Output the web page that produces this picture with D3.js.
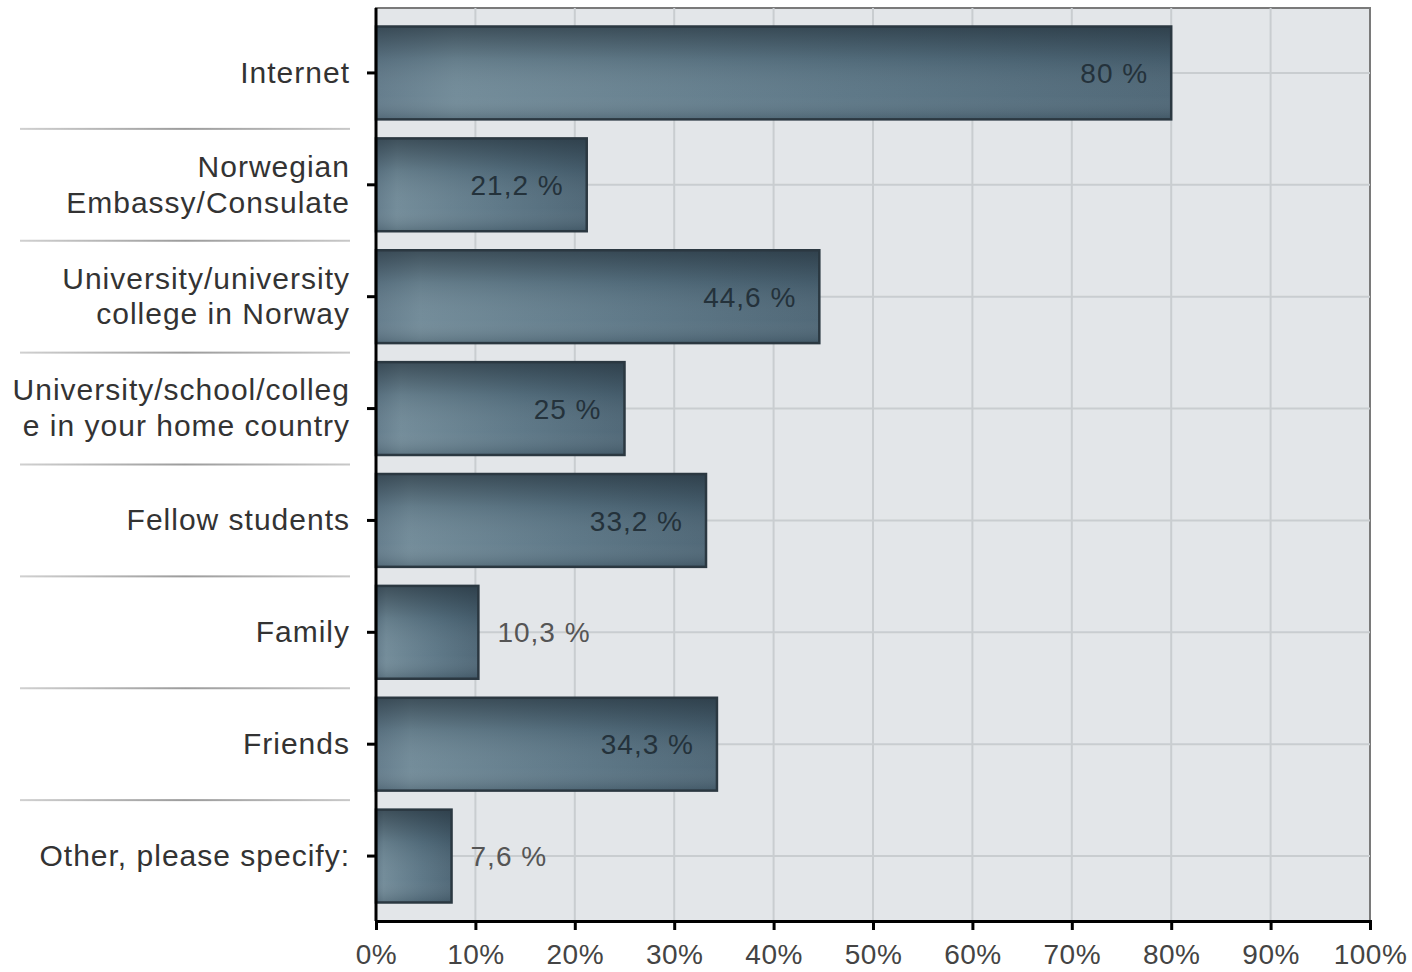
<!DOCTYPE html>
<html lang="en">
<head>
<meta charset="utf-8">
<title>Information sources</title>
<script src="https://cdn.jsdelivr.net/npm/d3@7"></script>
<style>
  body { margin: 0; background: #fff; }
  text { font-family: "Liberation Sans", Arial, sans-serif; }
</style>
</head>
<body>
<script>
    // categories (each line of a label is one entry)
    var categories = [
        ["Internet"],
        ["Norwegian", "Embassy/Consulate"],
        ["University/university", "college in Norway"],
        ["University/school/colleg", "e in your home country"],
        ["Fellow students"],
        ["Family"],
        ["Friends"],
        ["Other, please specify:"]
    ];
    var values = [80, 21.2, 44.6, 25, 33.2, 10.3, 34.3, 7.6];
    var valueLabels = ["80 %", "21,2 %", "44,6 %", "25 %", "33,2 %", "10,3 %", "34,3 %", "7,6 %"];
    var xTicks = [0, 10, 20, 30, 40, 50, 60, 70, 80, 90, 100];

    var W = 1412, H = 972;
    var margin = {top: 8, right: 42, bottom: 51, left: 376};
    var w = W - margin.left - margin.right,
        h = H - margin.top - margin.bottom;

    var svg = d3.select("body").append("svg")
        .attr("width", W)
        .attr("height", H);

    var defs = svg.append("defs");
    var gx = defs.append("linearGradient").attr("id", "barH")
        .attr("x1", "0").attr("x2", "1").attr("y1", "0").attr("y2", "0");
    gx.append("stop").attr("offset", "0%").attr("stop-color", "#5f7888");
    gx.append("stop").attr("offset", "10%").attr("stop-color", "#6e8896");
    gx.append("stop").attr("offset", "60%").attr("stop-color", "#587383");
    gx.append("stop").attr("offset", "100%").attr("stop-color", "#4a6373");
    var gy = defs.append("linearGradient").attr("id", "barV")
        .attr("x1", "0").attr("x2", "0").attr("y1", "0").attr("y2", "1");
    gy.append("stop").attr("offset", "0%").attr("stop-color", "#1e2a33").attr("stop-opacity", 0.6);
    gy.append("stop").attr("offset", "35%").attr("stop-color", "#1e2a33").attr("stop-opacity", 0.12);
    gy.append("stop").attr("offset", "75%").attr("stop-color", "#ffffff").attr("stop-opacity", 0.04);
    gy.append("stop").attr("offset", "100%").attr("stop-color", "#1e2a33").attr("stop-opacity", 0.2);

    var sepGrad = defs.append("linearGradient").attr("id", "sep")
        .attr("x1", "0").attr("x2", "1").attr("y1", "0").attr("y2", "0");
    sepGrad.append("stop").attr("offset", "0%").attr("stop-color", "#d0d0d0");
    sepGrad.append("stop").attr("offset", "50%").attr("stop-color", "#9c9c9c");
    sepGrad.append("stop").attr("offset", "100%").attr("stop-color", "#c8c8c8");

    var g = svg.append("g")
        .attr("transform", "translate(" + margin.left + "," + margin.top + ")");

    var xScale = d3.scaleLinear().domain([0, 100]).range([0, w]);
    var yScale = d3.scaleBand()
        .domain(d3.range(categories.length))
        .range([9, h - 9])
        .paddingInner(0.17)
        .paddingOuter(0.085);

    // plot background
    g.append("rect")
        .attr("width", w).attr("height", h)
        .attr("fill", "#e3e6e9")
        .attr("stroke", "#7a7a7a")
        .attr("stroke-width", 2);

    // vertical grid
    g.selectAll(".vgrid")
        .data(xTicks.slice(1, -1))
        .enter().append("line")
        .attr("x1", function (d) { return xScale(d); })
        .attr("x2", function (d) { return xScale(d); })
        .attr("y1", 0).attr("y2", h)
        .attr("stroke", "#c9cdd0")
        .attr("stroke-width", 2);

    // horizontal grid through category centers
    g.selectAll(".hgrid")
        .data(d3.range(categories.length))
        .enter().append("line")
        .attr("x1", 0).attr("x2", w)
        .attr("y1", function (d) { return yScale(d) + yScale.bandwidth() / 2; })
        .attr("y2", function (d) { return yScale(d) + yScale.bandwidth() / 2; })
        .attr("stroke", "#c9cdd0")
        .attr("stroke-width", 2);

    // separators between labels (left of axis)
    var step = yScale.step();
    g.selectAll(".sep")
        .data(d3.range(1, categories.length))
        .enter().append("rect")
        .attr("x", 20 - margin.left)
        .attr("width", 330)
        .attr("y", function (d) { return yScale(d) - (step - yScale.bandwidth()) / 2 - 1; })
        .attr("height", 2)
        .attr("fill", "url(#sep)");

    // bars
    var bars = g.selectAll(".bar")
        .data(values)
        .enter().append("g");

    bars.append("rect")
        .attr("x", 0)
        .attr("y", function (d, i) { return yScale(i); })
        .attr("width", function (d) { return xScale(d); })
        .attr("height", yScale.bandwidth())
        .attr("fill", "url(#barH)");

    bars.append("rect")
        .attr("x", 0)
        .attr("y", function (d, i) { return yScale(i); })
        .attr("width", function (d) { return xScale(d); })
        .attr("height", yScale.bandwidth())
        .attr("fill", "url(#barV)")
        .attr("stroke", "#2b3841")
        .attr("stroke-width", 2.5);

    // value labels
    g.selectAll(".val")
        .data(values)
        .enter().append("text")
        .attr("x", function (d) { return d > 15 ? xScale(d) - 23 : xScale(d) + 19; })
        .attr("y", function (d, i) { return yScale(i) + yScale.bandwidth() / 2; })
        .attr("dy", "0.36em")
        .attr("text-anchor", function (d) { return d > 15 ? "end" : "start"; })
        .attr("fill", function (d) { return d > 15 ? "#24323b" : "#555"; })
        .style("font-size", "28px")
        .style("letter-spacing", "1px")
        .text(function (d, i) { return valueLabels[i]; });

    // axes
    var xAxis = d3.axisBottom(xScale)
        .tickValues(xTicks)
        .tickSize(9)
        .tickPadding(14)
        .tickFormat(function (d) { return d + "%"; });

    var xg = g.append("g")
        .attr("transform", "translate(0," + h + ")")
        .call(xAxis);
    xg.select(".domain").attr("stroke", "#000").attr("stroke-width", 3);
    xg.selectAll(".tick line").attr("stroke", "#000").attr("stroke-width", 3);
    xg.selectAll(".tick text")
        .attr("fill", "#444")
        .style("font-size", "28px")
        .style("font-family", "'Liberation Sans', Arial, sans-serif")
        .style("letter-spacing", "0.5px");

    var yAxis = d3.axisLeft(yScale)
        .tickSize(9)
        .tickFormat("");
    var yg = g.append("g").call(yAxis);
    yg.select(".domain").attr("stroke", "#000").attr("stroke-width", 3)
        .attr("d", "M0," + h + "V0");
    yg.selectAll(".tick line").attr("stroke", "#000").attr("stroke-width", 3);

    // category labels
    var labels = g.selectAll(".cat")
        .data(categories)
        .enter().append("text")
        .attr("text-anchor", "end")
        .attr("fill", "#333")
        .style("font-size", "30px")
        .style("letter-spacing", "1px")
        .attr("transform", function (d, i) {
            return "translate(" + (-26) + "," + (yScale(i) + yScale.bandwidth() / 2 - 1) + ")";
        });

    labels.selectAll("tspan")
        .data(function (d) { return d; })
        .enter().append("tspan")
        .attr("x", 0)
        .attr("y", function (d, j, nodes) {
            var n = nodes.length;
            return (j - (n - 1) / 2) * 36;
        })
        .attr("dy", "0.36em")
        .text(function (d) { return d; });
</script>
</body>
</html>
